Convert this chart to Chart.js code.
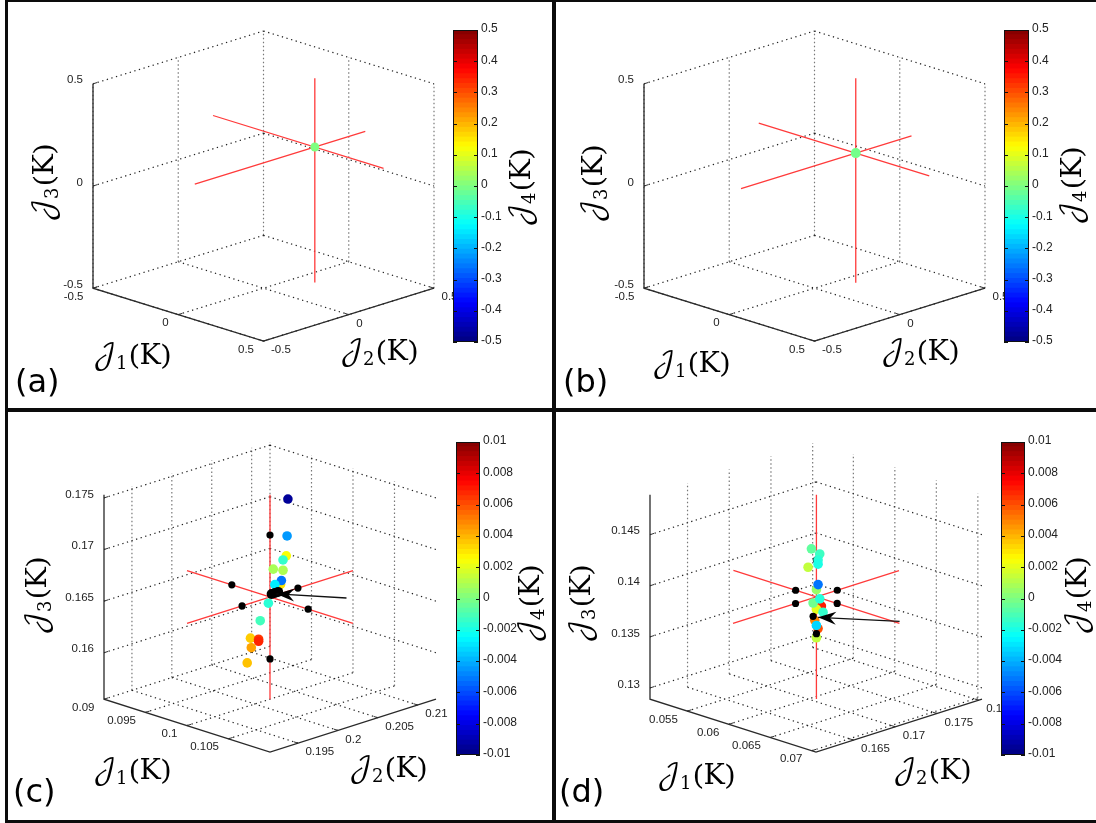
<!DOCTYPE html>
<html>
<head>
<meta charset="utf-8">
<title>J1 J2 J3 J4 scatter</title>
<script src="https://cdn.jsdelivr.net/npm/chart.js@4"></script>
<style>
  html, body { margin: 0; padding: 0; background: #fff; }
  #page { position: relative; width: 1096px; height: 823px; overflow: hidden; }
  canvas { position: absolute; }
  .bar { position: absolute; background: #0c0c0c; }
</style>
</head>
<body>
<div id="page">
  <div class="bar" style="left:5px;top:0;width:3px;height:823px"></div>
  <div class="bar" style="left:5px;top:0;width:1091px;height:2px"></div>
  <div class="bar" style="left:552px;top:0;width:4px;height:823px"></div>
  <div class="bar" style="left:5px;top:408px;width:1091px;height:4px"></div>
  <div class="bar" style="left:5px;top:820px;width:1091px;height:3px"></div>
</div>
<script>
// axis ranges
const rangeJ1a = [-0.5, 0.5], rangeJ2a = [-0.5, 0.5], rangeJ3a = [-0.5, 0.5];
const rangeJ1c = [0.09, 0.11], rangeJ2c = [0.1915, 0.2123], rangeJ3c = [0.1555, 0.1753];
const rangeJ1d = [0.0505, 0.0705], rangeJ2d = [0.1605, 0.1804], rangeJ3d = [0.1289, 0.1489];

// tick labels
const ticksWide = [-0.5, 0, 0.5];
const ticksJ1c = [0.09, 0.095, 0.1, 0.105];
const ticksJ2c = [0.195, 0.2, 0.205, 0.21];
const ticksJ3c = [0.16, 0.165, 0.17, 0.175];
const ticksJ1d = [0.055, 0.06, 0.065, 0.07];
const ticksJ2d = [0.165, 0.17, 0.175, 0.18];
const ticksJ3d = [0.13, 0.135, 0.14, 0.145];
const barTicksWide = [-0.5, -0.4, -0.3, -0.2, -0.1, 0, 0.1, 0.2, 0.3, 0.4, 0.5];
const barTicksNarrow = [-0.01, -0.008, -0.006, -0.004, -0.002, 0, 0.002, 0.004, 0.006, 0.008, 0.01];

// crossing point of the red lines
const centerA = [0.097, 0.204, 0.163];
const centerB = [0.069, 0.173, 0.134];
const centerC = [0.1, 0.2019, 0.1654];
const centerD = [0.0605, 0.1705, 0.1389];

// points, J4 null = black marker, later points sit on top
const j1A = [0.097], j2A = [0.204], j3A = [0.163], j4A = [0];
const j1B = [0.069], j2B = [0.173], j3B = [0.134], j4B = [-0.01];

const j1C = [0.1011, 0.1010, 0.1010, 0.1008, 0.1002, 0.1008, 0.1006, 0.1007, 0.1003, 0.0999, 0.0994, 0.0988, 0.0993, 0.0993, 0.0989, 0.0986,
             0.1, 0.1, 0.0954, 0.1046, 0.1, 0.1, 0.1003, 0.1005, 0.1001];
const j2C = [0.2030, 0.2030, 0.2029, 0.2027, 0.2021, 0.2027, 0.2026, 0.2026, 0.2022, 0.2018, 0.2013, 0.2007, 0.2012, 0.2012, 0.2007, 0.2005,
             0.2019, 0.2019, 0.2019, 0.2019, 0.1984, 0.2054, 0.2022, 0.2024, 0.2020];
const j3C = [0.1749, 0.1713, 0.1694, 0.1690, 0.1681, 0.1680, 0.1666, 0.1670, 0.1666, 0.1648, 0.1631, 0.1614, 0.1613, 0.1611, 0.1605, 0.1590,
             0.1714, 0.1594, 0.1654, 0.1654, 0.1654, 0.1654, 0.1658, 0.1659, 0.1657];
const j4C = [-0.0095, -0.0045, 0.0024, -0.0015, 0.0008, 0.0009, 0.003, -0.0052, -0.0028, -0.0017, -0.0012, 0.0035, 0.0064, 0.0068, 0.0043, 0.0037,
             null, null, null, null, null, null, null, null, null];

const j1D = [0.0605, 0.0605, 0.0602, 0.0607, 0.0606, 0.0606, 0.0600, 0.0605, 0.0606, 0.0608, 0.0605, 0.0603, 0.0607, 0.0609, 0.0604, 0.0606, 0.0605, 0.0605,
             0.0580, 0.0630, 0.0605, 0.0605, 0.0603];
const j2D = [0.1705, 0.1705, 0.1702, 0.1707, 0.1706, 0.1706, 0.1700, 0.1705, 0.1706, 0.1708, 0.1705, 0.1703, 0.1707, 0.1709, 0.1704, 0.1706, 0.1705, 0.1705,
             0.1705, 0.1705, 0.1680, 0.1730, 0.1703];
const j3D = [0.1425, 0.1349, 0.1436, 0.1431, 0.1425, 0.1421, 0.1418, 0.1396, 0.1401, 0.1380, 0.1377, 0.1383, 0.1387, 0.1374, 0.1366, 0.1358, 0.1361, 0.1353,
             0.1389, 0.1389, 0.1389, 0.1389, 0.1370];
const j4D = [null, 0.0013, -0.0006, -0.0013, -0.0017, -0.002, 0.0013, 0.0005, -0.0052, 0.007, 0.002, -0.0003, -0.0018, -0.0015, 0.005, 0.006, -0.0033, null,
             null, null, null, null, null];

// arrows: tail then tip, [J1, J2, J3]
const arrowC = [[0.1046, 0.2067, 0.1653], [0.1004, 0.2023, 0.1657]];
const arrowD = [[0.0655, 0.1755, 0.1365], [0.0606, 0.1706, 0.1369]];

const TILT = 0.2585;
const TICK_FONT = "11.5px 'Liberation Sans'";
const MATH_FONT = "'DejaVu Math TeX Gyre','Liberation Serif','DejaVu Serif',serif";

function jet(t) {
    t = Math.max(0, Math.min(1, t));
    const ch = v => Math.round(255 * Math.max(0, Math.min(1, 1.5 - Math.abs(4 * t - v))));
    return `rgb(${ch(3)},${ch(2)},${ch(1)})`;
}

function project(p, j1, j2, j3) {
    const n1 = (j1 - p.r1[0]) / (p.r1[1] - p.r1[0]);
    const n2 = (j2 - p.r2[0]) / (p.r2[1] - p.r2[0]);
    const nz = (j3 - p.r3[0]) / (p.r3[1] - p.r3[0]);
    return { x: n1 + n2, y: (n2 - n1) * TILT + nz };
}

const GAP = { x: NaN, y: NaN };

function segments(list) {
    const out = [];
    list.forEach(s => out.push(s[0], s[1], GAP));
    return out;
}

function lineSet(data, color, width, dash, order) {
    return {
        type: "line", data: data, borderColor: color, borderWidth: width, borderDash: dash,
        pointRadius: 0, spanGaps: false, tension: 0, order: order, clip: false
    };
}

function mathLabel(ctx, cx, cy, sub, rot) {
    const main = "28.5px " + MATH_FONT;
    const small = "18px " + MATH_FONT;
    ctx.save();
    ctx.translate(cx, cy);
    ctx.rotate(rot);
    ctx.fillStyle = "#000";
    ctx.textBaseline = "alphabetic";
    ctx.textAlign = "left";
    ctx.font = main;
    const wJ = ctx.measureText("\u{1D4A5}").width;
    const wK = ctx.measureText("(K)").width;
    ctx.font = small;
    const wS = ctx.measureText(sub).width;
    let x = -(wJ + wS + wK) / 2;
    ctx.font = main;
    ctx.fillText("\u{1D4A5}", x, 7);
    x += wJ;
    ctx.font = small;
    ctx.fillText(sub, x, 12);
    x += wS;
    ctx.font = main;
    ctx.fillText("(K)", x, 7);
    ctx.restore();
}

const textPlugin = {
    id: "panelText",
    afterDraw(chart) {
        const p = chart.options.plugins.panelText;
        const ctx = chart.ctx;
        const sx = chart.scales.x, sy = chart.scales.y;
        const px = q => ({ x: sx.getPixelForValue(q.x), y: sy.getPixelForValue(q.y) });
        const lab = (text, q, dx, dy, align) => {
            const c = px(q);
            ctx.textAlign = align;
            ctx.fillText(text, c.x + dx, c.y + dy);
        };
        ctx.save();
        ctx.font = TICK_FONT;
        ctx.fillStyle = "#222";
        ctx.textBaseline = "middle";
        p.t3.forEach(v => lab(String(v), project(p, p.r1[0], p.r2[0], v), -10, -3.5, "right"));
        p.t1.forEach(v => lab(String(v), project(p, v, p.r2[0], p.r3[0]), -9.5, 8.5, "right"));
        p.t2.forEach(v => lab(String(v), project(p, p.r1[1], v, p.r3[0]), 7.5, 9, "left"));
        ctx.restore();

        if (p.arrow) {
            const a = px(project(p, ...p.arrow[0]));
            const b = px(project(p, ...p.arrow[1]));
            const ang = Math.atan2(b.y - a.y, b.x - a.x);
            ctx.save();
            ctx.strokeStyle = "#111";
            ctx.fillStyle = "#000";
            ctx.lineWidth = 1.3;
            ctx.beginPath();
            ctx.moveTo(a.x, a.y);
            ctx.lineTo(b.x, b.y);
            ctx.stroke();
            ctx.translate(b.x, b.y);
            ctx.rotate(ang);
            ctx.beginPath();
            ctx.moveTo(0, 0);
            ctx.lineTo(-18, -6.5);
            ctx.lineTo(-12, 0);
            ctx.lineTo(-18, 6.5);
            ctx.closePath();
            ctx.fill();
            ctx.restore();
        }

        const ox = chart.canvas.offsetLeft, oy = chart.canvas.offsetTop;
        p.titles.forEach(t => mathLabel(ctx, t[1] - ox, t[2] - oy, t[0], t[3] ? -Math.PI / 2 : 0));
        ctx.save();
        ctx.font = "32px 'DejaVu Sans'";
        ctx.fillStyle = "#000";
        ctx.textAlign = "left";
        ctx.textBaseline = "middle";
        ctx.fillText(p.letter[0], p.letter[1] - ox, p.letter[2] - oy);
        ctx.restore();
    }
};

function addCanvas(left, top, w, h) {
    const c = document.createElement("canvas");
    c.width = w; c.height = h;
    c.style.left = left + "px"; c.style.top = top + "px";
    c.style.width = w + "px"; c.style.height = h + "px";
    document.getElementById("page").appendChild(c);
    return c;
}

function drawPanel(p) {
    const box = p.box, area = p.area;
    const canvas = addCanvas(box[0], box[1], box[2], box[3]);
    const wallV = [], wallH = [], axisTicks = [];
    const [a1, b1] = p.r1, [a2, b2] = p.r2, [a3, b3] = p.r3;

    p.t3.forEach(v => {
        wallH.push([project(p, a1, a2, v), project(p, a1, b2, v)]);
        wallH.push([project(p, a1, b2, v), project(p, b1, b2, v)]);
        axisTicks.push([project(p, a1, a2, v), project(p, a1, a2 + (b2 - a2) * 0.025, v)]);
    });
    p.t1.forEach(v => {
        wallH.push([project(p, v, a2, a3), project(p, v, b2, a3)]);
        wallV.push([project(p, v, b2, a3), project(p, v, b2, b3)]);
        axisTicks.push([project(p, v, a2, a3), project(p, v, a2 + (b2 - a2) * 0.025, a3)]);
    });
    p.t2.forEach(v => {
        wallH.push([project(p, a1, v, a3), project(p, b1, v, a3)]);
        wallV.push([project(p, a1, v, a3), project(p, a1, v, b3)]);
        axisTicks.push([project(p, b1, v, a3), project(p, b1 - (b1 - a1) * 0.025, v, a3)]);
    });

    const axes = [
        project(p, a1, a2, b3), project(p, a1, a2, a3), project(p, b1, a2, a3), project(p, b1, b2, a3)
    ];
    const c = p.center;
    const red = segments([
        [project(p, a1, c[1], c[2]), project(p, b1, c[1], c[2])],
        [project(p, c[0], a2, c[2]), project(p, c[0], b2, c[2])],
        [project(p, c[0], c[1], a3), project(p, c[0], c[1], b3)]
    ]);
    const pts = p.j1.map((v, i) => project(p, v, p.j2[i], p.j3[i]));
    const colors = p.j4.map(v => v === null ? "#000" : jet((v + p.j4max) / (2 * p.j4max)));
    const radii = p.j4.map((v, i) => v === null ? (p.bigBlack.includes(i) ? 5 : 3.6) : p.dot);

    new Chart(canvas, {
        type: "scatter",
        data: {
            datasets: [
                { type: "scatter", data: pts, pointBackgroundColor: colors, pointBorderWidth: 0, pointRadius: radii, order: 1, clip: false },
                lineSet(red, "#ff3a3a", 1.3, [], 2),
                lineSet(axes, "#2a2a2a", 1.3, [], 3),
                lineSet(segments(axisTicks), "#333", 1, [], 4),
                lineSet(segments(wallH), "#222", 1.2, [1.3, 3.5], 5),
                lineSet(segments(wallV), "#777", 1.2, [1.5, 2.5], 6)
            ]
        },
        options: {
            responsive: false,
            animation: false,
            events: [],
            layout: {
                padding: {
                    left: area[0] - box[0],
                    top: area[1] - box[1],
                    right: box[0] + box[2] - area[2],
                    bottom: box[1] + box[3] - area[3]
                }
            },
            scales: {
                x: { type: "linear", min: 0, max: 2, display: false },
                y: { type: "linear", min: -TILT, max: 1 + TILT, display: false }
            },
            plugins: { legend: { display: false }, tooltip: { enabled: false }, panelText: p }
        },
        plugins: [textPlugin]
    });
}

const barEdges = {
    id: "barEdges",
    afterDraw(chart) {
        const ctx = chart.ctx, a = chart.chartArea, sy = chart.scales.y;
        ctx.save();
        ctx.strokeStyle = "#111";
        ctx.lineWidth = 1;
        ctx.strokeRect(a.left + 0.5, a.top + 0.5, a.right - a.left - 1, a.bottom - a.top - 1);
        sy.ticks.forEach(t => {
            const y = Math.round(sy.getPixelForValue(t.value)) + 0.5;
            ctx.beginPath();
            ctx.moveTo(a.left, y); ctx.lineTo(a.left + 4, y);
            ctx.moveTo(a.right - 4, y); ctx.lineTo(a.right, y);
            ctx.stroke();
        });
        ctx.restore();
    }
};

function drawColorbar(b) {
    const pad = 8, labelW = 46;
    const canvas = addCanvas(b.x0, b.y0 - pad, b.x1 - b.x0 + labelW, b.y1 - b.y0 + 2 * pad);
    const steps = 64, top = b.ticks[b.ticks.length - 1], low = b.ticks[0];
    const datasets = [];
    for (let i = 0; i < steps; i++) {
        datasets.push({
            data: [[low + (top - low) * i / steps, low + (top - low) * (i + 1) / steps]],
            backgroundColor: jet((i + 0.5) / steps),
            borderColor: jet((i + 0.5) / steps),
            borderWidth: 0,
            inflateAmount: 0.6,
            grouped: false,
            barPercentage: 1,
            categoryPercentage: 1
        });
    }
    new Chart(canvas, {
        type: "bar",
        data: { labels: ["J4"], datasets: datasets },
        options: {
            responsive: false,
            animation: false,
            events: [],
            layout: { padding: { top: pad, bottom: pad, left: 0, right: 0 } },
            scales: {
                x: { display: false },
                y: {
                    type: "linear", position: "right", min: low, max: top,
                    grid: { display: false, drawTicks: false },
                    border: { display: false },
                    afterFit: s => { s.width = labelW; s.paddingTop = 0; s.paddingBottom = 0; },
                    afterBuildTicks: s => { s.ticks = b.ticks.map(v => ({ value: v })); },
                    ticks: {
                        padding: 3,
                        labelOffset: -1,
                        color: "#222",
                        font: { family: "'Liberation Sans'", size: 12 },
                        callback: v => String(v)
                    }
                }
            },
            plugins: { legend: { display: false }, tooltip: { enabled: false } }
        },
        plugins: [barEdges]
    });
}

const panels = [
    { box: [8, 2, 544, 406], area: [93, 31, 434, 341], r1: rangeJ1a, r2: rangeJ2a, r3: rangeJ3a, t1: ticksWide, t2: ticksWide, t3: ticksWide,
      center: centerA, j1: j1A, j2: j2A, j3: j3A, j4: j4A, j4max: 0.5, dot: 4.5, bigBlack: [],
      titles: [["1", 133, 357], ["2", 380, 353], ["3", 46, 182, true], ["4", 523, 187, true]], letter: ["(a)", 15, 384] },
    { box: [556, 2, 540, 406], area: [644, 31, 985, 341], r1: rangeJ1a, r2: rangeJ2a, r3: rangeJ3a, t1: ticksWide, t2: ticksWide, t3: ticksWide,
      center: centerB, j1: j1B, j2: j2B, j3: j3B, j4: j4B, j4max: 0.5, dot: 5, bigBlack: [],
      titles: [["1", 692, 365], ["2", 921, 353], ["3", 595, 183, true], ["4", 1074, 185, true]], letter: ["(b)", 563, 384] },
    { box: [8, 412, 544, 408], area: [104, 442, 436, 752], r1: rangeJ1c, r2: rangeJ2c, r3: rangeJ3c, t1: ticksJ1c, t2: ticksJ2c, t3: ticksJ3c,
      center: centerC, j1: j1C, j2: j2C, j3: j3C, j4: j4C, j4max: 0.01, dot: 4.8, bigBlack: [22, 23, 24],
      titles: [["1", 133, 772], ["2", 389, 770], ["3", 39, 595, true], ["4", 532, 603, true]], letter: ["(c)", 13, 794], arrow: arrowC },
    { box: [556, 412, 540, 408], area: [650, 442, 982, 752], r1: rangeJ1d, r2: rangeJ2d, r3: rangeJ3d, t1: ticksJ1d, t2: ticksJ2d, t3: ticksJ3d,
      center: centerD, j1: j1D, j2: j2D, j3: j3D, j4: j4D, j4max: 0.01, dot: 4.8, bigBlack: [],
      titles: [["1", 697, 777], ["2", 933, 772], ["3", 583, 603, true], ["4", 1079, 595, true]], letter: ["(d)", 559, 794], arrow: arrowD }
];

const colorbars = [
    { x0: 453, x1: 478, y0: 30, y1: 342, ticks: barTicksWide },
    { x0: 1004, x1: 1029, y0: 30, y1: 342, ticks: barTicksWide },
    { x0: 456, x1: 480, y0: 442, y1: 755, ticks: barTicksNarrow },
    { x0: 1001, x1: 1025, y0: 442, y1: 755, ticks: barTicksNarrow }
];

panels.forEach(drawPanel);
colorbars.forEach(drawColorbar);
</script>
</body>
</html>
